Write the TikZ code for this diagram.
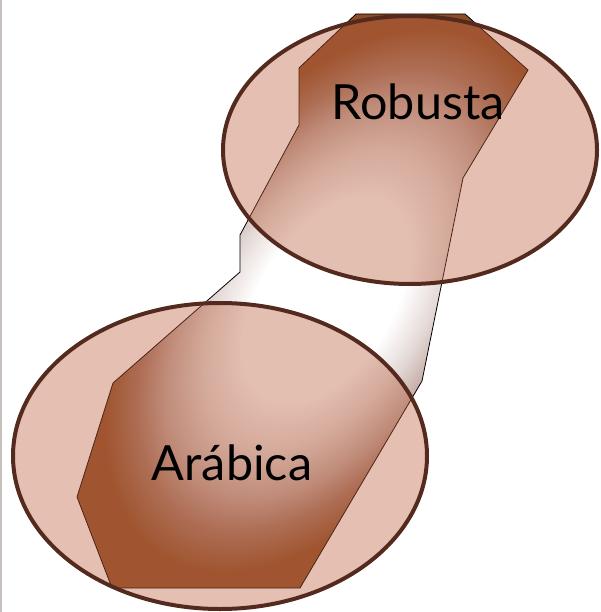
\documentclass[tikz,border=0pt]{standalone}
\usepackage{fontspec}
\setmainfont{Lato}
\usepackage{xcolor}
\definecolor{beanBrown}{RGB}{142,78,37}
\definecolor{beanMid}{RGB}{165,120,100}
\definecolor{beanGray}{RGB}{196,170,162}
\definecolor{beanLight}{RGB}{228,218,215}
\definecolor{ovalFill}{RGB}{187,95,62}
\definecolor{ovalLine}{RGB}{85,42,30}
\definecolor{edgeGray}{RGB}{200,192,188}
\pgfdeclareradialshading{beanshade}{\pgfpoint{0bp}{0bp}}{%
  color(0bp)=(white); color(7.5bp)=(white); color(11.25bp)=(beanLight);
  color(14.5bp)=(beanGray); color(17bp)=(beanMid); color(20bp)=(beanBrown);
  color(25bp)=(beanBrown)}

\begin{document}
\begin{tikzpicture}[
  x=1pt, y=-1pt,
  beanedge/.style={draw=black, line width=0.8pt, line join=miter},
  oval/.style={draw=ovalLine, line width=4pt, fill=ovalFill, fill opacity=0.4, draw opacity=1},
  kind/.style={font=\fontsize{48.5}{52}\selectfont, anchor=base, text=black, inner sep=0pt},
]
\useasboundingbox (0,0) rectangle (600,612);
\draw[edgeGray, line width=1.6pt] (0.8,0) -- (0.8,612);

\begin{scope}
  \clip (356,14) -- (465,14) -- (528,70) -- (463,178) -- (422,381) -- (300,588)
    -- (112,588) -- (77,497) -- (113,383) -- (240,272) -- (240,235) -- (299,125)
    -- (299,68) -- cycle;
  \begin{scope}[transform canvas={shift={(326,300)}, rotate=57, xscale=15.15, yscale=8.77}]
    \shade[shading=beanshade] (-25bp,-25bp) rectangle (25bp,25bp);
  \end{scope}
\end{scope}
\draw[beanedge] (356,14) -- (465,14) -- (528,70) -- (463,178) -- (422,381) -- (300,588)
  -- (112,588) -- (77,497) -- (113,383) -- (240,272) -- (240,235) -- (299,125)
  -- (299,68) -- cycle;

\draw[oval] (410,150) ellipse [x radius=187, y radius=134];
\draw[oval] (220,456) ellipse [x radius=207, y radius=153];

\node[kind] (robusta) at (418,120) {Robusta};
\node[kind] (arabica) at (232,480) {Arábica};
\end{tikzpicture}
\end{document}
